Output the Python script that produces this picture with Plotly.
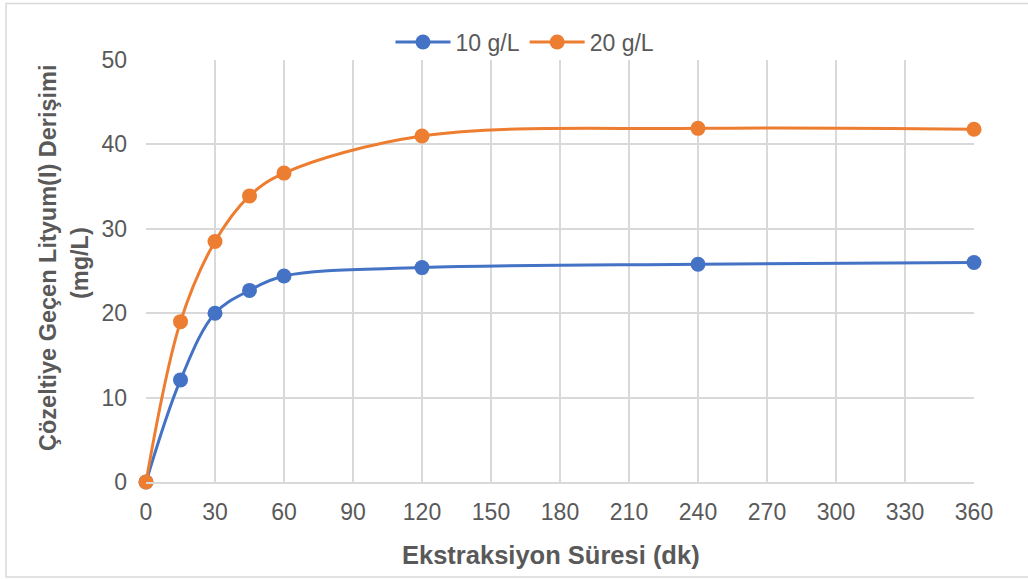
import plotly.graph_objects as go

# Extraction time (minutes)
sure_dk = [0, 15, 30, 45, 60, 120, 240, 360]

# Dissolved lithium concentration (mg/L) for each solid/liquid ratio
seri_10 = [0, 12.1, 20.0, 22.7, 24.4, 25.4, 25.8, 26.0]
seri_20 = [0, 19.0, 28.5, 33.9, 36.6, 41.0, 41.9, 41.8]

seri_adlari = ["10 g/L", "20 g/L"]
renkler = ["#4472C4", "#ED7D31"]

x_ticks = list(range(0, 361, 30))
y_ticks = list(range(0, 51, 10))

W, H = 1028, 579
L, R, T, B = 146, 54, 60, 97
pw, ph = W - L - R, H - T - B


def px_x(p):
    return (p - L) / pw


def px_y(p):
    return (H - B - p) / ph


FONT = "Liberation Sans, Arial, sans-serif"
GRAY = "#595959"
FS = 23

fig = go.Figure()
for ad, ys, renk in zip(seri_adlari, [seri_10, seri_20], renkler):
    fig.add_trace(go.Scatter(
        x=sure_dk, y=ys, name=ad, mode="lines+markers", cliponaxis=False,
        line=dict(color=renk, width=3, shape="spline", smoothing=1),
        marker=dict(color=renk, size=15),
    ))

fig.update_layout(
    width=W, height=H,
    margin=dict(l=L, r=R, t=T, b=B),
    paper_bgcolor="white", plot_bgcolor="white",
    font=dict(family=FONT, size=FS, color=GRAY),
    showlegend=True,
    legend=dict(orientation="h", x=px_x(525), xanchor="center",
                y=px_y(42), yanchor="middle",
                font=dict(size=FS, color=GRAY), itemwidth=55,
                bgcolor="rgba(0,0,0,0)"),
    xaxis=dict(range=[0, 360], tickvals=x_ticks, ticks="",
               showgrid=True, gridcolor="#d9d9d9", gridwidth=1.5,
               showline=True, linecolor="#d9d9d9", linewidth=1.5,
               zeroline=False, ticklabelstandoff=9,
               tickfont=dict(size=FS, color=GRAY)),
    yaxis=dict(range=[0, 50], tickvals=y_ticks, ticks="",
               showgrid=True, gridcolor="#d9d9d9", gridwidth=1.5,
               showline=False, zeroline=False, ticklabelstandoff=18,
               tickfont=dict(size=FS, color=GRAY)),
    annotations=[
        dict(text="<b>Ekstraksiyon Süresi (dk)</b>", xref="paper", yref="paper",
             x=px_x(551), y=px_y(555), xanchor="center", yanchor="middle",
             showarrow=False, font=dict(size=25.5, color=GRAY, family=FONT)),
        dict(text="<b>Çözeltiye Geçen Lityum(I) Derişimi</b>",
             xref="paper", yref="paper", x=px_x(48), y=px_y(258),
             xanchor="center", yanchor="middle", textangle=-90,
             showarrow=False, font=dict(size=23.5, color=GRAY, family=FONT)),
        dict(text="<b>(mg/L)</b>",
             xref="paper", yref="paper", x=px_x(80), y=px_y(263),
             xanchor="center", yanchor="middle", textangle=-90,
             showarrow=False, font=dict(size=23.5, color=GRAY, family=FONT)),
    ],
    shapes=[
        dict(type="rect", xref="paper", yref="paper",
             x0=px_x(6), x1=px_x(1034), y0=px_y(577), y1=px_y(3.5),
             line=dict(color="#d9d9d9", width=1.5), layer="below"),
    ],
)

fig.write_html("out.html")
